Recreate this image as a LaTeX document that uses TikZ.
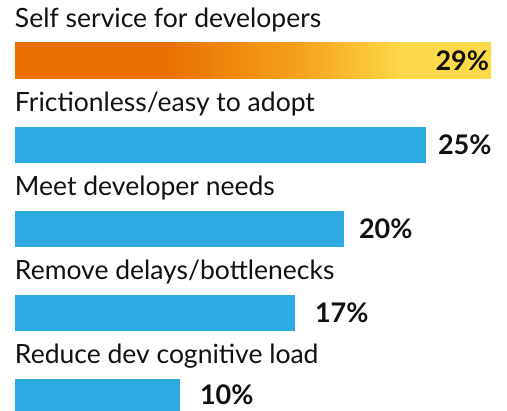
\documentclass[tikz,border=0pt]{standalone}
\usepackage{fontspec}
\setmainfont{Lato}
\usetikzlibrary{positioning}
\definecolor{barblue}{HTML}{2EAAE2}
\definecolor{barorange}{HTML}{EA7000}
\definecolor{barmid}{HTML}{F5A21C}
\definecolor{baryellow}{HTML}{FEDA4A}
\definecolor{textblack}{HTML}{111111}
\pgfdeclarehorizontalshading{barshade}{100bp}{color(0bp)=(barorange); color(41bp)=(barorange); color(55bp)=(barmid); color(66bp)=(baryellow); color(100bp)=(baryellow)}

\begin{document}
\begin{tikzpicture}[x=1pt, y=-1pt, node distance=12pt]
\tikzstyle{every node}=[inner sep=0pt, outer sep=0pt]
\tikzstyle{itemtext}=[anchor=base west, text=textblack, font=\fontsize{26.5}{30}\selectfont]
\tikzstyle{bar}=[anchor=north west, minimum height=36pt, fill=barblue]
\tikzstyle{pct}=[text=textblack, font=\bfseries\fontsize{27}{31}\selectfont]
\useasboundingbox (0,0) rectangle (507,411);

\node[itemtext] (t1) at (15,28)  {Self service for developers};
\node[itemtext] (t2) at (15,112) {Frictionless/easy to adopt};
\node[itemtext] (t3) at (15,196) {Meet developer needs};
\node[itemtext] (t4) at (15,280) {Remove delays/bottlenecks};
\node[itemtext] (t5) at (15,364) {Reduce dev cognitive load};

\node[bar, fill=none, shading=barshade, minimum width=476pt] (b1) at (15,43) {};
\node[bar, minimum width=411pt] (b2) at (15,127) {};
\node[bar, minimum width=329pt] (b3) at (15,211) {};
\node[bar, minimum width=280pt] (b4) at (15,295) {};
\node[bar, minimum width=165pt, minimum height=32pt] (b5) at (15,379) {};

\node[pct, anchor=east] (p1) at ([xshift=-2pt]b1.east) {29\%};
\node[pct, right=12pt of b2] (p2) {25\%};
\node[pct, right=15pt of b3] (p3) {20\%};
\node[pct, right=20pt of b4] (p4) {17\%};
\node[pct, right=20pt of b5] (p5) {10\%};

\end{tikzpicture}
\end{document}
